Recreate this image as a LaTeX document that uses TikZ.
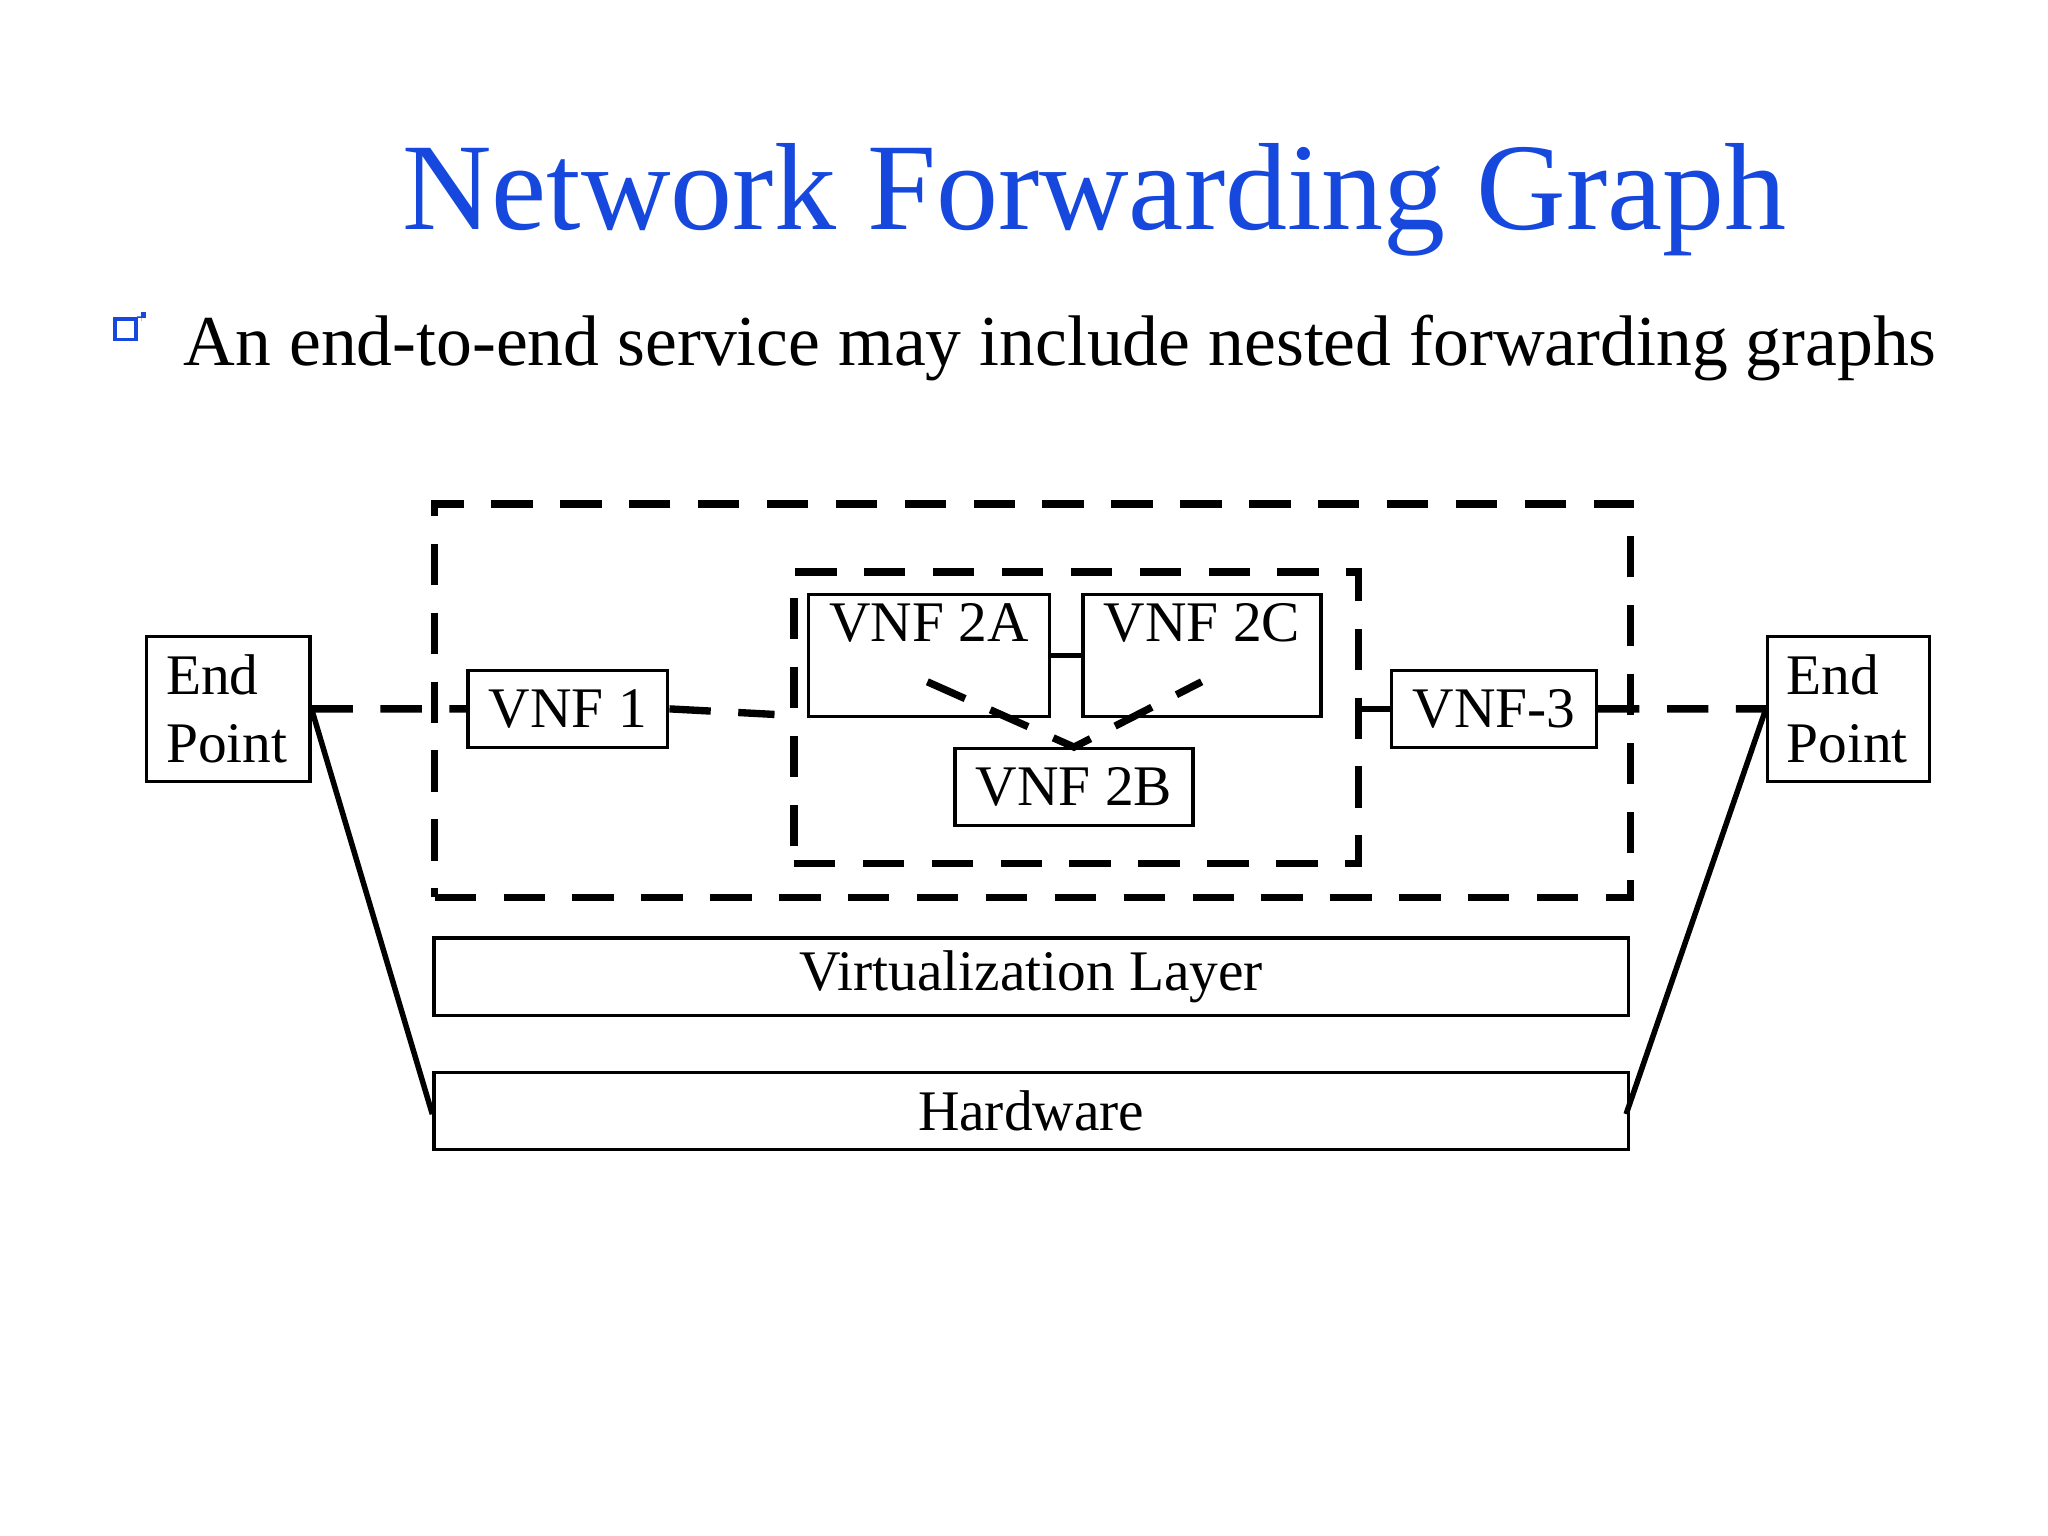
\documentclass[tikz,border=0pt]{standalone}
\usepackage{fontspec}
\setmainfont{Liberation Serif}
\definecolor{tblue}{RGB}{22,72,222}
\begin{document}
\begin{tikzpicture}[x=0.01cm,y=-0.01cm,
  box/.style={draw,line width=0.7pt,inner sep=0pt,anchor=north west,font=\fontsize{12.5}{15}\selectfont},
  dsh/.style={line width=1.6pt,dash pattern=on 9pt off 6pt},
  sol/.style={line width=1.2pt}]
\useasboundingbox (0,0) rectangle (1568,1176);
\node[font=\fontsize{27}{30}\selectfont,text=tblue,anchor=base] (title) at (838,176) {Network Forwarding Graph};
\node[draw=tblue,fill=white,line width=0.8pt,minimum size=0.16cm,inner sep=0pt] (bul) at (96,252) {};
\draw[tblue,line width=2pt] ([xshift=0.03cm]bul.north east) -- ++(0,-0.19) -- ++(-0.16,0);
\node[font=\fontsize{15.6}{19}\selectfont,anchor=base west,inner sep=0pt] (sub) at (140,280) {An end-to-end service may include nested forwarding graphs};
\node[dsh,draw,minimum width=9.15cm,minimum height=3.01cm,anchor=north west] (outer) at (330,383) {};
\node[dsh,draw,minimum width=4.32cm,minimum height=2.23cm,anchor=north west] (inner) at (605,435) {};
\node[box,minimum width=1.25cm,minimum height=1.11cm,align=left,text width=0.95cm] (epl) at (111,486) {End\\Point};
\node[box,minimum width=1.24cm,minimum height=1.11cm,align=left,text width=0.95cm] (epr) at (1352,486) {End\\Point};
\node[box,minimum width=1.53cm,minimum height=0.59cm] (v1) at (357,512) {VNF 1};
\node[box,minimum width=1.84cm,minimum height=0.93cm,text depth=0.5cm] (v2a) at (618,454) {VNF 2A};
\node[box,minimum width=1.82cm,minimum height=0.93cm,text depth=0.5cm] (v2c) at (828,454) {VNF 2C};
\node[box,minimum width=1.82cm,minimum height=0.59cm] (v2b) at (730,572) {VNF 2B};
\node[box,minimum width=1.57cm,minimum height=0.59cm] (v3) at (1064,512) {VNF-3};
\node[box,minimum width=9.14cm,minimum height=0.59cm] (virt) at (331,717) {Virtualization Layer};
\node[box,minimum width=9.14cm,minimum height=0.59cm] (hw) at (331,820) {Hardware};
\coordinate (hl) at (331,853); \coordinate (hr) at (1245,853);
\coordinate (ia) at (593,547); \coordinate (ja) at (710,522); \coordinate (jc) at (920,522);
\draw[dsh] (epl.east) -- (v1.west);
\draw[dsh] (v1.east) -- (ia);
\draw[sol] (v2a.east) -- (v2c.west);
\draw[dsh] (ja) -- (v2b.north) -- (jc);
\draw[sol] (inner.east |- v3.west) -- (v3.west);
\draw[dsh] (v3.east) -- (epr.west);
\draw[sol] (epl.east) -- (hl);
\draw[sol] (epr.west) -- (hr);
\end{tikzpicture}
\end{document}
